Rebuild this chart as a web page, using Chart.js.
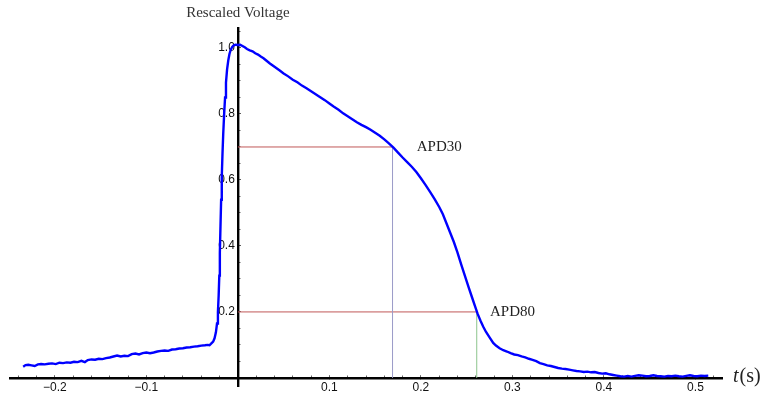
<!DOCTYPE html>
<html><head><meta charset="utf-8">
<script src="https://cdn.jsdelivr.net/npm/chart.js@4.4.1/dist/chart.umd.min.js"></script>
<style>html,body{margin:0;padding:0;background:#fff;}canvas{display:block;}</style>
</head><body>
<canvas id="c" width="761" height="398"></canvas>
<script>
// ---- data (time in s, rescaled voltage) ----
const restTime = [
 -0.2346,-0.2320,-0.2290,-0.2255,-0.2220,-0.2185,-0.2150,-0.2110,-0.2070,-0.2030,
 -0.1990,-0.1950,-0.1910,-0.1870,-0.1830,-0.1790,-0.1750,-0.1710,-0.1672,-0.1640,
 -0.1600,-0.1560,-0.1520,-0.1480,-0.1440,-0.1400,-0.1360,-0.1320,-0.1280,-0.1240,
 -0.1200,-0.1160,-0.1120,-0.1080,-0.1040,-0.1000,-0.0960,-0.0920,-0.0880,-0.0840,
 -0.0800,-0.0760,-0.0720,-0.0680,-0.0640,-0.0600,-0.0560,-0.0520,-0.0480,-0.0440,
 -0.0400,-0.0360,-0.0330,-0.0310,-0.0295];
const restVoltage = [
 0.034,0.039,0.040,0.038,0.036,0.041,0.042,0.041,0.043,0.044,
 0.042,0.046,0.045,0.047,0.046,0.049,0.048,0.052,0.048,0.054,
 0.056,0.055,0.058,0.057,0.060,0.062,0.065,0.068,0.065,0.067,
 0.066,0.072,0.074,0.071,0.075,0.077,0.075,0.077,0.080,0.082,
 0.083,0.082,0.086,0.087,0.089,0.090,0.092,0.093,0.095,0.096,
 0.098,0.099,0.100,0.099,0.103];
const upTime = [
 -0.0270,-0.0255,-0.0240,-0.0228,-0.0218,-0.0210,-0.0203,-0.0197,-0.0190,-0.0183,
 -0.0176,-0.0168,-0.0160,-0.0150,-0.0140,-0.0130,-0.0118,-0.0105,-0.0092,-0.0078,
 -0.0062,-0.0045,-0.0025,0.0000,0.0025,0.0050,0.0075,0.0100];
const upVoltage = [
 0.110,0.120,0.138,0.165,0.200,0.250,0.310,0.380,0.460,0.540,
 0.610,0.680,0.740,0.800,0.850,0.895,0.935,0.962,0.982,0.995,
 1.003,1.008,1.010,1.009,1.010,1.006,1.002,0.997];
const decayTime = [
 0.013,0.016,0.019,0.022,0.025,0.028,0.031,0.035,0.040,0.045,
 0.050,0.055,0.060,0.065,0.070,0.075,0.080,0.085,0.090,0.095,
 0.100,0.105,0.110,0.115,0.120,0.125,0.130,0.135,0.140,
 0.145,0.150,0.155,0.160,0.165,0.170,0.175,0.180,0.185,0.190,
 0.195,0.200,0.205,0.210,0.215,0.220,0.224,0.228,0.232,0.236,
 0.240,0.244,0.248,0.252,0.256,0.259,0.262,0.265,0.268,0.271,
 0.275,0.279];
const decayVoltage = [
 0.993,0.990,0.984,0.980,0.974,0.969,0.962,0.953,0.943,0.933,
 0.923,0.914,0.904,0.896,0.886,0.878,0.869,0.860,0.851,0.842,
 0.832,0.822,0.813,0.802,0.793,0.784,0.775,0.767,0.760,
 0.752,0.743,0.734,0.723,0.711,0.698,0.683,0.668,0.654,0.640,
 0.624,0.605,0.585,0.564,0.542,0.518,0.496,0.468,0.440,0.412,
 0.380,0.344,0.310,0.276,0.243,0.218,0.194,0.174,0.156,0.140,
 0.123,0.106];
const tailTime = [
 0.282,0.286,0.290,0.294,0.298,0.302,0.306,0.310,0.314,0.318,
 0.322,0.326,0.330,0.334,0.338,0.342,0.346,0.350,0.354,0.358,
 0.362,0.366,0.370,0.374,0.378,0.382,0.386,0.390,0.394,0.398,
 0.402,0.406,0.410,0.414,0.418,0.422,0.426,0.430,0.434,0.438,
 0.442,0.446,0.450,0.454,0.458,0.462,0.466,0.470,0.474,0.478,
 0.482,0.486,0.490,0.494,0.498,0.502,0.506,0.510,0.514];
const tailVoltage = [
 0.098,0.090,0.084,0.080,0.075,0.071,0.069,0.065,0.062,0.058,
 0.055,0.051,0.045,0.042,0.038,0.036,0.033,0.030,0.028,0.027,
 0.025,0.023,0.021,0.020,0.018,0.019,0.017,0.018,0.015,0.013,
 0.014,0.011,0.009,0.007,0.005,0.004,0.006,0.004,0.006,0.008,
 0.007,0.005,0.006,0.008,0.006,0.005,0.004,0.006,0.005,0.007,
 0.005,0.004,0.006,0.008,0.006,0.005,0.007,0.006,0.007];

const apdNames  = ['APD30', 'APD80'];
const apdTimes  = [0.169, 0.261];
const apdLevels = [0.7, 0.2];
const apdVColors = ['#9a9ac8', '#8cc48c'];
const apdLabelX = [0.1955, 0.2755];

const xTickLabels = [-0.2, -0.1, 0.1, 0.2, 0.3, 0.4, 0.5];
const yTickLabels = [0.2, 0.4, 0.6, 0.8, 1.0];
const xRange = [-0.249, 0.529];
const yRange = [-0.0245, 1.0606];
const yTitle = 'Rescaled Voltage';

// ---- build ----
const timeS = restTime.concat(upTime, decayTime, tailTime);
const voltage = restVoltage.concat(upVoltage, decayVoltage, tailVoltage);
const curve = timeS.map((t, i) => ({x: t, y: voltage[i]}));

const xMinor = []; for (let k = -12; k <= 26; k++) xMinor.push(+(k * 0.02).toFixed(2));
const yMinor = []; for (let k = 1; k <= 21; k++) yMinor.push(+(k * 0.05).toFixed(2));

const datasets = [{
  data: curve, showLine: true, borderColor: '#0000ff', borderWidth: 2.4,
  pointRadius: 0, tension: 0, order: 0
}];
apdTimes.forEach((t, i) => {
  datasets.push({data: [{x: 0, y: apdLevels[i]}, {x: t, y: apdLevels[i]}], showLine: true,
    borderColor: '#c05858', borderWidth: 1, pointRadius: 0, order: 2});
  datasets.push({data: [{x: t, y: 0}, {x: t, y: apdLevels[i]}], showLine: true,
    borderColor: apdVColors[i], borderWidth: 1, pointRadius: 0, order: 1});
});

const setTicks = (vals) => (scale) => { scale.ticks = vals.map(v => ({value: v})); };
const fmt = (v) => { const s = Number(v).toFixed(1); return s.replace('-', '\u2212'); };
const sansFont = {family: '"Liberation Sans", Arial, sans-serif', size: 12};

const textPlugin = {
  id: 'texts',
  afterDraw(chart) {
    const {ctx} = chart;
    const x = chart.scales.x, y = chart.scales.y;
    ctx.save();
    ctx.fillStyle = '#222';
    ctx.textBaseline = 'middle';
    ctx.textAlign = 'left';
    ctx.font = '15px "Liberation Serif", "Times New Roman", serif';
    apdNames.forEach((n, i) => ctx.fillText(n, x.getPixelForValue(apdLabelX[i]), y.getPixelForValue(apdLevels[i])));
    ctx.textAlign = 'center';
    ctx.fillStyle = '#333';
    ctx.fillText(yTitle, x.getPixelForValue(0), chart.chartArea.top - 15);
    // x axis label t(s)
    ctx.fillStyle = '#222';
    ctx.textAlign = 'left';
    const lx = chart.chartArea.right + 11, ly = y.getPixelForValue(0) - 1;
    ctx.font = 'italic 20px "Liberation Serif", "Times New Roman", serif';
    ctx.fillText('t', lx, ly);
    const w = ctx.measureText('t').width;
    ctx.font = '20px "Liberation Serif", "Times New Roman", serif';
    ctx.fillText('(s)', lx + w + 1, ly);
    ctx.restore();
  }
};

new Chart(document.getElementById('c'), {
  type: 'scatter',
  data: {datasets},
  options: {
    responsive: false, animation: false, devicePixelRatio: 1,
    layout: {padding: {left: 10, right: 39, top: 28, bottom: 12}},
    plugins: {legend: {display: false}, tooltip: {enabled: false}},
    scales: {
      x: {type: 'linear', min: xRange[0], max: xRange[1], position: {y: 0},
          afterBuildTicks: setTicks(xTickLabels),
          grid: {drawOnChartArea: false, drawTicks: true, tickLength: -4, tickColor: '#555', tickWidth: 1},
          border: {display: true, color: '#000', width: 2.4},
          ticks: {display: false}},
      xMinor: {type: 'linear', axis: 'x', min: xRange[0], max: xRange[1], position: {y: 0},
          afterBuildTicks: setTicks(xMinor),
          grid: {drawOnChartArea: false, drawTicks: true, tickLength: -2.5, tickColor: '#666', tickWidth: 1},
          border: {display: false}, ticks: {display: false}},
      xLab: {type: 'linear', axis: 'x', min: xRange[0], max: xRange[1], position: {y: 0},
          afterBuildTicks: setTicks(xTickLabels),
          grid: {display: false, drawTicks: false}, border: {display: false},
          ticks: {display: true, padding: 3, color: '#111', font: sansFont, callback: fmt, maxRotation: 0, autoSkip: false}},
      y: {type: 'linear', min: yRange[0], max: yRange[1], position: {x: 0},
          afterBuildTicks: setTicks(yTickLabels),
          grid: {drawOnChartArea: false, drawTicks: true, tickLength: -4, tickColor: '#555', tickWidth: 1},
          border: {display: true, color: '#000', width: 2.4},
          ticks: {display: false}},
      yMinor: {type: 'linear', axis: 'y', min: yRange[0], max: yRange[1], position: {x: 0},
          afterBuildTicks: setTicks(yMinor),
          grid: {drawOnChartArea: false, drawTicks: true, tickLength: -2.5, tickColor: '#666', tickWidth: 1},
          border: {display: false}, ticks: {display: false}},
      yLab: {type: 'linear', axis: 'y', min: yRange[0], max: yRange[1], position: {x: -0.0033},
          afterBuildTicks: setTicks(yTickLabels),
          grid: {display: false, drawTicks: false}, border: {display: false},
          ticks: {display: true, padding: 0, color: '#111', font: sansFont, callback: fmt, autoSkip: false}}
    }
  },
  plugins: [textPlugin]
});
</script>
</body></html>
